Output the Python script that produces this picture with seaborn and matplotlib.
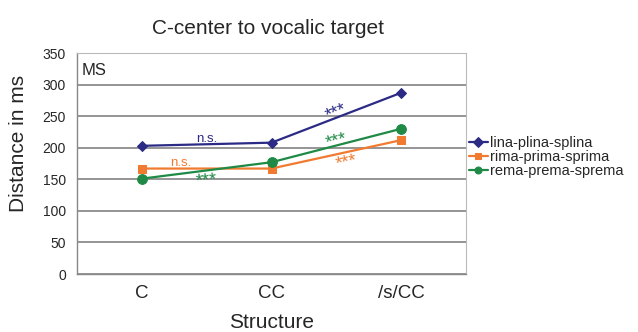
import matplotlib
matplotlib.use("Agg")
import matplotlib.pyplot as plt
import seaborn as sns
import pandas as pd

structures = ["C", "CC", "/s/CC"]
series_names = ["lina-plina-splina", "rima-prima-sprima", "rema-prema-sprema"]
lina = [203, 208, 287]
rima = [167, 167, 212]
rema = [151, 177, 230]
y_ticks = [0, 50, 100, 150, 200, 250, 300, 350]

colors = {"lina-plina-splina": "#2B2A85",
          "rima-prima-sprima": "#F07A30",
          "rema-prema-sprema": "#1E8A45"}
markers = {"lina-plina-splina": "D",
           "rima-prima-sprima": "s",
           "rema-prema-sprema": "o"}
sizes = {"lina-plina-splina": 5, "rima-prima-sprima": 6, "rema-prema-sprema": 7}

rows = []
for name, vals in zip(series_names, [lina, rima, rema]):
    for s, v in zip(structures, vals):
        rows.append({"Structure": s, "Distance": v, "Series": name})
df = pd.DataFrame(rows)

sns.set_style("white")
plt.rcParams["font.family"] = ["Liberation Sans", "DejaVu Sans"]

fig = plt.figure(figsize=(6.38, 3.32), dpi=100)
ax = fig.add_axes([77 / 638, 1 - 274 / 332, (466 - 77) / 638, (274 - 53) / 332])

for name in series_names:
    sub = df[df["Series"] == name]
    sns.lineplot(data=sub, x="Structure", y="Distance", ax=ax, color=colors[name],
                 marker=markers[name], markersize=sizes[name], markeredgecolor=colors[name],
                 linewidth=1.6, sort=False, label=name)

ax.set_ylim(0, 350)
ax.set_xlim(-0.5, 2.5)
ax.set_yticks(y_ticks)
ax.set_yticklabels([str(t) for t in y_ticks], fontsize=10)
ax.set_xticks([0, 1, 2])
ax.set_xticklabels(structures, fontsize=13.5)
ax.set_xticks([-0.5, 0.5, 1.5, 2.5], minor=True)
ax.tick_params(axis="x", which="major", length=0, pad=8)
ax.tick_params(axis="x", which="minor", length=5, color="#888888", direction="out")
ax.tick_params(axis="y", length=5, color="#888888", direction="out", pad=3)
ax.yaxis.grid(True, color="#8C8C8C", linewidth=1.3)
ax.set_axisbelow(True)
for sp in ["top", "right"]:
    ax.spines[sp].set_color("#BBBBBB")
    ax.spines[sp].set_linewidth(0.8)
for sp in ["left", "bottom"]:
    ax.spines[sp].set_color("#888888")
    ax.spines[sp].set_linewidth(1.0)

ax.set_xlabel("Structure", fontsize=15, labelpad=8)
ax.set_ylabel("Distance in ms", fontsize=15)
ax.yaxis.set_label_coords(-0.125, 0.59)
fig.text(268 / 638, 1 - 29 / 332, "C-center to vocalic target", ha="center", va="center", fontsize=15)
ax.text(0.012, 0.955, "MS", transform=ax.transAxes, ha="left", va="top", fontsize=12)

# significance marks between structure steps
def mid(vals, i):
    return (vals[i] + vals[i + 1]) / 2

ax.text(0.5, mid(lina, 0) + 8, "n.s.", color=colors["lina-plina-splina"], ha="center", va="center", fontsize=9.5)
ax.text(0.3, mid(rima, 0) + 9, "n.s.", color=colors["rima-prima-sprima"], ha="center", va="center", fontsize=9.5)
ax.text(0.5, mid(rema, 0) - 17, "***", color=colors["rema-prema-sprema"], ha="center", va="center", fontsize=13, rotation=5)
ax.text(1.5, mid(lina, 1) + 8, "***", color=colors["lina-plina-splina"], ha="center", va="center", fontsize=13, rotation=22)
ax.text(1.5, mid(rema, 1) + 6, "***", color=colors["rema-prema-sprema"], ha="center", va="center", fontsize=13, rotation=14)
ax.text(1.58, mid(rima, 1) - 14, "***", color=colors["rima-prima-sprima"], ha="center", va="center", fontsize=13, rotation=12)

leg = ax.legend(loc="center left", bbox_to_anchor=(1.0, 0.53), frameon=False, fontsize=10.5,
                handlelength=1.3, handletextpad=0.15, labelspacing=0.0, borderaxespad=0.1,
                borderpad=0.1)
for h in leg.legend_handles:
    h.set_markersize(5)

fig.savefig("out.png", dpi=100, facecolor="white")
